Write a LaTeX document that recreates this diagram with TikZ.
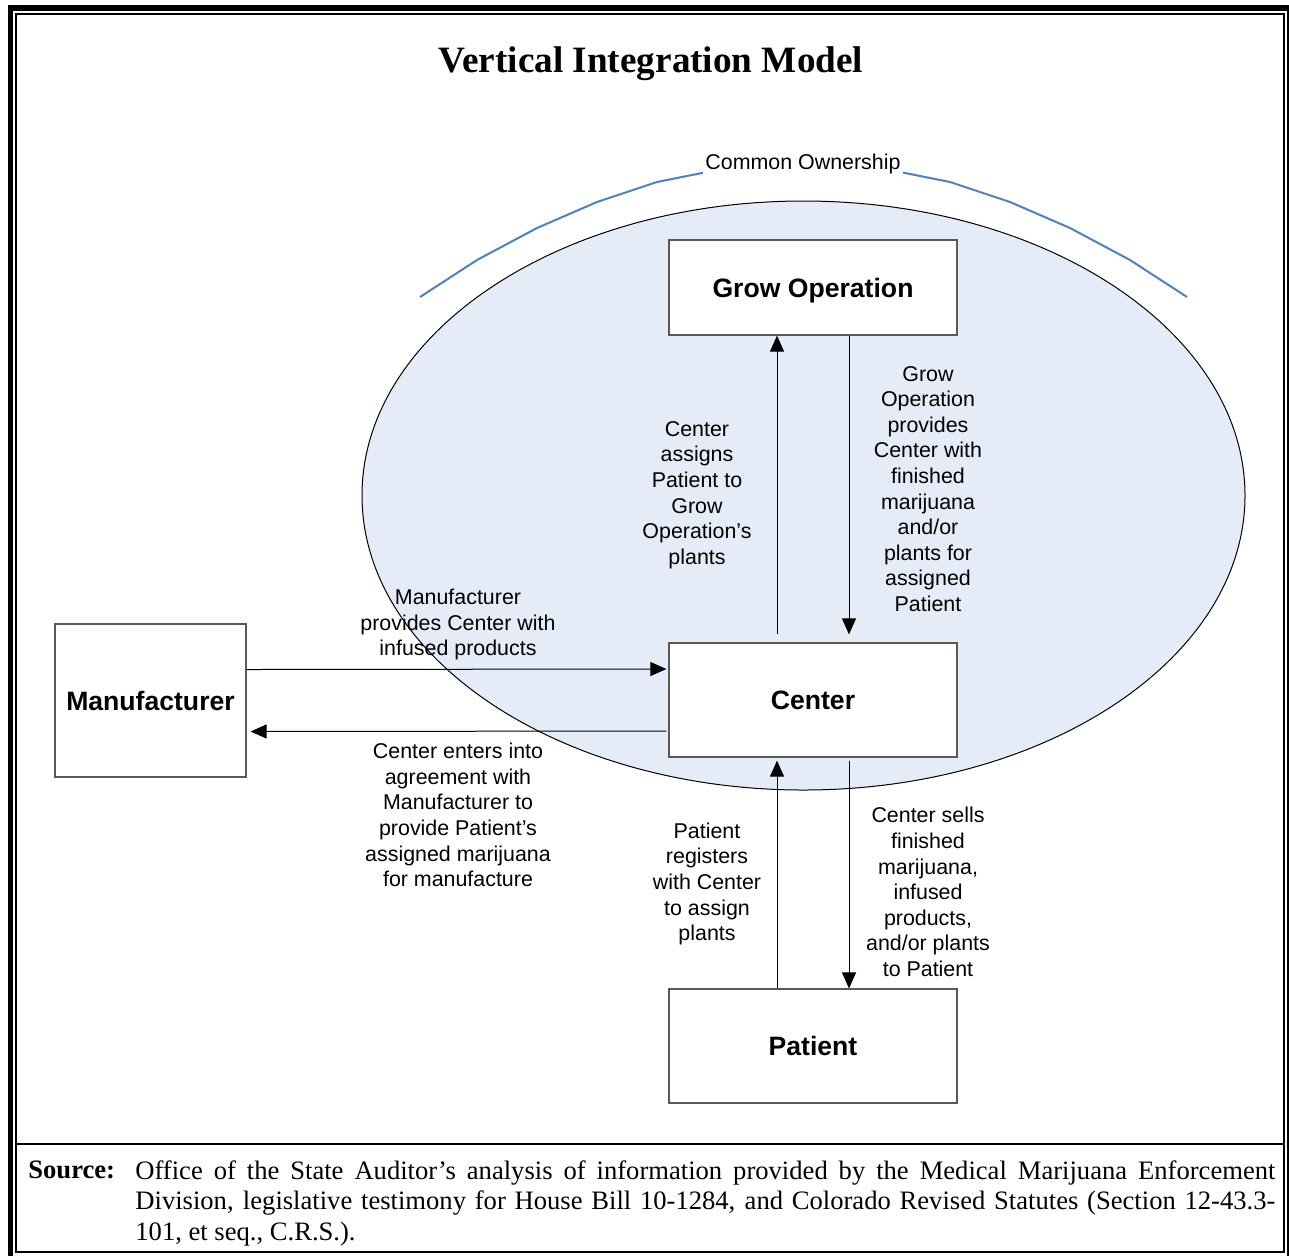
\documentclass[tikz,border=0pt]{standalone}
\usepackage{fontspec}
\setmainfont{Liberation Serif}
\setsansfont{Liberation Sans}
\usetikzlibrary{arrows.meta}

\definecolor{ownfill}{RGB}{230,236,247}
\definecolor{ownline}{RGB}{79,129,189}

\tikzset{
  unit/.style={draw=black!65, line width=0.6pt, fill=white, inner sep=0pt, text depth=0pt,
    minimum width=144pt, font=\sffamily\bfseries\fontsize{13.3}{16}\selectfont},
  flow/.style={line width=0.5pt, -{Triangle[length=8pt,width=7pt]}},
  note/.style={align=center, inner sep=0pt, font=\sffamily\fontsize{10.7}{12.8}\selectfont},
}

\begin{document}
\begin{tikzpicture}[x=0.5pt,y=-0.5pt]
    \useasboundingbox (0,0) rectangle (1289,1255);

    % Double frame round the figure, and the strip for the source
    \draw[line width=2.8pt] (10.5,8) rectangle (1290,1259);
    \draw[line width=1pt] (16,14) rectangle (1284,1252);
    \draw[line width=1.2pt] (16,1144) -- (1284,1144);

    \node[font=\bfseries\fontsize{18.6}{22}\selectfont] (title) at (651,64) {Vertical Integration Model};

    % Shaded ellipse and blue arc for common ownership
    \draw[fill=ownfill, line width=0.5pt] (803.5,495.5) ellipse [x radius=220.75pt, y radius=147.25pt];
    \draw[ownline, line width=1pt] (420,297) -- (477,260) -- (537,228) -- (597,202) -- (657,182) -- (707,172)
        -- (803,164) -- (900,172) -- (950,182) -- (1010,202) -- (1070,228) -- (1130,260) -- (1187,297);
    \node[note, fill=white, inner sep=1pt] (owner) at (803,164) {Common Ownership};

    % The four parties
    \node[unit, minimum height=47.5pt] (grow) at (813,287.5) {Grow Operation};
    \node[unit, minimum height=57pt] (center) at (813,700) {Center};
    \node[unit, minimum height=57pt] (patient) at (813,1046) {Patient};
    \node[unit, minimum width=95.5pt, minimum height=76.5pt] (maker) at (150.5,700.5) {Manufacturer};

    % Flows between them
    \draw[flow] ([xshift=-18pt,yshift=4pt]center.north) -- ([xshift=-18pt]grow.south);
    \draw[flow] ([xshift=18pt]grow.south) -- ([xshift=18pt,yshift=4pt]center.north);
    \draw[flow] ([xshift=-18pt]patient.north) -- ([xshift=-18pt,yshift=-1.5pt]center.south);
    \draw[flow] ([xshift=18pt,yshift=-1.5pt]center.south) -- ([xshift=18pt]patient.north);
    \draw[flow] ([yshift=15.5pt]maker.east) -- ([xshift=-1pt,yshift=15.5pt]center.west);
    \draw[flow] ([xshift=-1pt,yshift=-15.5pt]center.west) -- ([xshift=2pt,yshift=-15.5pt]maker.east);

    % Texts on the flows
    \node[note] (assignlbl) at (697,495) {Center\\assigns\\Patient to\\Grow\\Operation’s\\plants};
    \node[note] (supplylbl) at (928,489) {Grow\\Operation\\provides\\Center with\\finished\\marijuana\\and/or\\plants for\\assigned\\Patient};
    \node[note] (infuselbl) at (458,624.5) {Manufacturer\\provides Center with\\infused products};
    \node[note] (agreelbl) at (458,815) {Center enters into\\agreement with\\Manufacturer to\\provide Patient’s\\assigned marijuana\\for manufacture};
    \node[note] (registerlbl) at (707,884) {Patient\\registers\\with Center\\to assign\\plants};
    \node[note] (selllbl) at (928,892) {Center sells\\finished\\marijuana,\\infused\\products,\\and/or plants\\to Patient};

    % Source line under the figure
    \node[anchor=base west, inner sep=0pt, font=\bfseries\fontsize{13.3}{15.25}\selectfont] (srclbl) at (28,1178) {Source:};
    \node[anchor=north west, inner sep=0pt, text width=570pt, align=justify,
        font=\fontsize{13.3}{15.25}\selectfont] (srctext) at (135,1160)
        {\tolerance=10000
         Office of the State Auditor's analysis of information provided by the Medical Marijuana Enforcement\linebreak
         Division, legislative testimony for House Bill 10-1284, and Colorado Revised Statutes (Section 12-43.3-\linebreak
         101, et seq., C.R.S.).};

\end{tikzpicture}
\end{document}
